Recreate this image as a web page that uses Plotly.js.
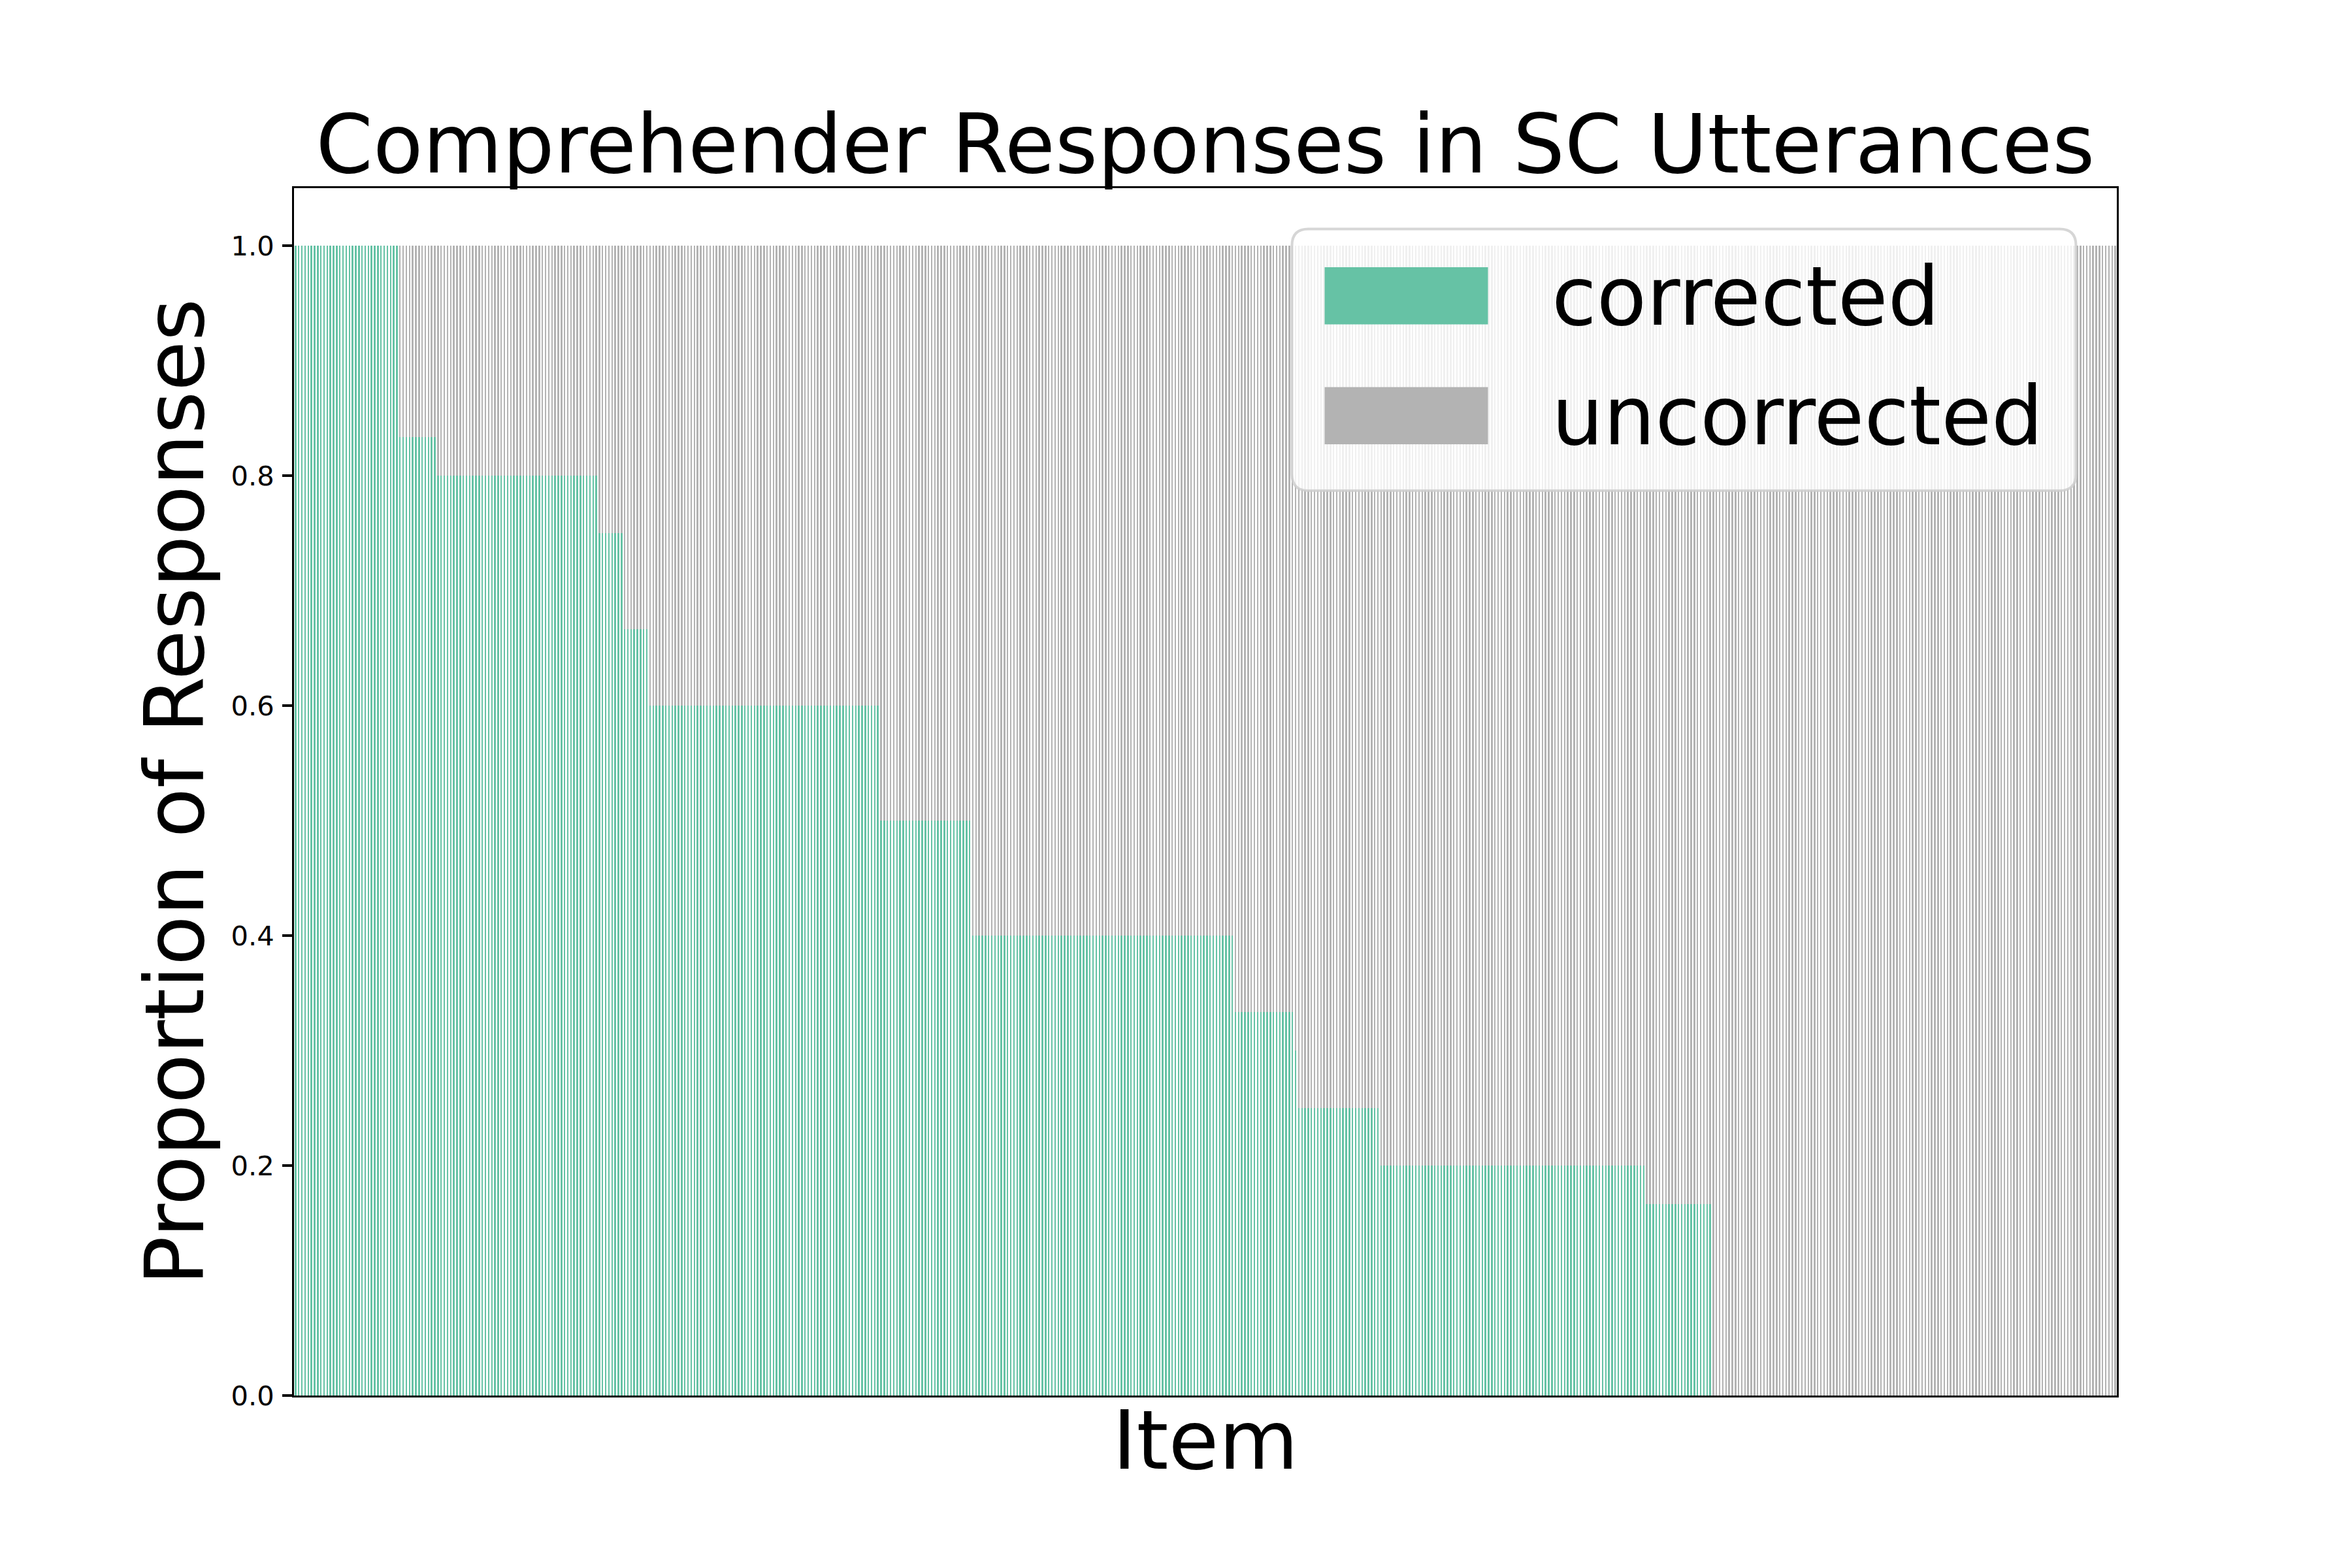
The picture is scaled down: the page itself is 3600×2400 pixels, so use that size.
<!DOCTYPE html>
<html>
<head>
<meta charset="utf-8">
<script src="https://cdn.plot.ly/plotly-3.0.1.min.js"></script>
<style>
  body { margin: 0; background: white; }
  #chart { width: 3600px; height: 2400px; }
</style>
</head>
<body>
<div id="chart"></div>
<script>
const levels = [1.0, 0.8333, 0.8, 0.75, 0.6667, 0.6, 0.5, 0.4, 0.3333, 0.3, 0.25, 0.2, 0.1667, 0.0];
const counts = [33, 12, 51, 8, 8, 73, 29, 83, 19, 1, 26, 84, 21, 128];
const yTicks = [0, 0.2, 0.4, 0.6, 0.8, 1.0];
const yTickText = ["0.0", "0.2", "0.4", "0.6", "0.8", "1.0"];

const corrected = [];
levels.forEach((v, i) => {
  for (let k = 0; k < counts[i]; k++) corrected.push(v);
});
const uncorrected = corrected.map((v) => 1 - v);
const items = corrected.map((v, i) => i);
const n = items.length;

const green = "#66c2a5";
const grey = "#b3b3b3";

const trace1 = {
  x: items,
  y: corrected,
  name: "corrected",
  type: "bar",
  marker: { color: green, line: { width: 0 } },
  hoverinfo: "skip"
};

const trace2 = {
  x: items,
  y: uncorrected,
  name: "uncorrected",
  type: "bar",
  marker: { color: grey, line: { width: 0 } },
  hoverinfo: "skip"
};

// legend box position (paper coords), drawn by hand to get matplotlib-like patches
const px = (X) => (X - 450) / 2790;
const py = (Y) => (2136 - Y) / 1848;
const bx0 = px(1977.5), bx1 = px(3177.5), by0 = py(751), by1 = py(350.5);
const rx = 25 / 2790, ry = 25 / 1848;
const boxPath =
  `M ${bx0 + rx},${by1} L ${bx1 - rx},${by1} Q ${bx1},${by1} ${bx1},${by1 - ry} ` +
  `L ${bx1},${by0 + ry} Q ${bx1},${by0} ${bx1 - rx},${by0} ` +
  `L ${bx0 + rx},${by0} Q ${bx0},${by0} ${bx0},${by0 + ry} ` +
  `L ${bx0},${by1 - ry} Q ${bx0},${by1} ${bx0 + rx},${by1} Z`;

const font = "DejaVu Sans";

const layout = {
  width: 3600,
  height: 2400,
  margin: { l: 450, r: 360, t: 288, b: 264 },
  paper_bgcolor: "white",
  plot_bgcolor: "white",
  barmode: "stack",
  bargap: 0.5,
  showlegend: false,
  font: { family: font, color: "black" },
  title: {
    text: "Comprehender Responses in SC Utterances",
    font: { family: font, size: 125, color: "black" },
    xref: "paper",
    x: 0.5,
    xanchor: "center",
    yref: "container",
    y: 1 - 220 / 2400,
    yanchor: "middle"
  },
  xaxis: {
    title: { text: "Item", font: { family: font, size: 125 }, standoff: 23 },
    range: [-0.5, n - 0.5],
    showticklabels: false,
    ticks: "",
    showgrid: false,
    zeroline: false,
    showline: true,
    mirror: true,
    linecolor: "black",
    linewidth: 3.3,
    fixedrange: true
  },
  yaxis: {
    title: { text: "Proportion of Responses", font: { family: font, size: 125 }, standoff: 0 },
    range: [0, 1.05],
    tickvals: yTicks,
    ticktext: yTickText,
    tickfont: { family: font, size: 41.7 },
    ticks: "outside",
    ticklen: 14.6,
    tickwidth: 3.3,
    tickcolor: "black",
    ticklabelstandoff: 4,
    showgrid: false,
    zeroline: false,
    showline: true,
    mirror: true,
    linecolor: "black",
    linewidth: 3.3,
    fixedrange: true
  },
  shapes: [
    {
      type: "path", xref: "paper", yref: "paper", layer: "above",
      path: boxPath,
      fillcolor: "rgba(255,255,255,0.8)",
      line: { color: "rgba(204,204,204,0.8)", width: 4 }
    },
    {
      type: "rect", xref: "paper", yref: "paper", layer: "above",
      x0: px(2027.5), x1: px(2277.5), y0: py(496.5), y1: py(409),
      fillcolor: green, line: { width: 0 }
    },
    {
      type: "rect", xref: "paper", yref: "paper", layer: "above",
      x0: px(2027.5), x1: px(2277.5), y0: py(680), y1: py(592.5),
      fillcolor: grey, line: { width: 0 }
    }
  ],
  annotations: [
    {
      text: "corrected", xref: "paper", yref: "paper",
      x: px(2373), y: py(453), xanchor: "left", yanchor: "middle",
      showarrow: false, font: { family: font, size: 125, color: "black" }
    },
    {
      text: "uncorrected", xref: "paper", yref: "paper",
      x: px(2373), y: py(636.5), xanchor: "left", yanchor: "middle",
      showarrow: false, font: { family: font, size: 125, color: "black" }
    }
  ]
};

const config = { displayModeBar: false, staticPlot: true };

Plotly.newPlot("chart", [trace1, trace2], layout, config);
</script>
</body>
</html>
